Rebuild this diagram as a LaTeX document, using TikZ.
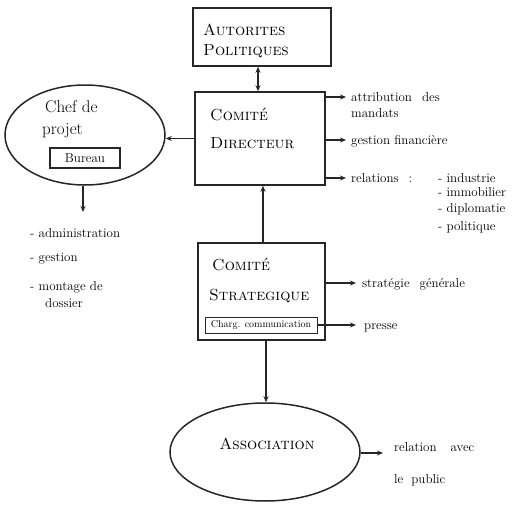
\documentclass[tikz,border=0pt]{standalone}
\usetikzlibrary{shapes.geometric,arrows.meta}
\begin{document}
\begin{tikzpicture}[x=1pt,y=-1pt,
  ink/.style={draw=black!85, line width=1.5pt},
  boxnode/.style={ink, rectangle, inner sep=0pt},
  ovalnode/.style={ink, ellipse, inner sep=0pt},
  title/.style={font=\fontsize{16}{18}\selectfont\scshape, inner sep=0pt, anchor=base west},
  lab/.style={font=\fontsize{13}{15}\selectfont, inner sep=0pt, anchor=base west},
  arr/.style={black!85, line width=1.4pt, -{Stealth[length=6pt,width=5pt]}},
  darr/.style={black!85, line width=1.4pt, {Stealth[length=6pt,width=5pt]}-{Stealth[length=6pt,width=5pt]}}]
\useasboundingbox (0,0) rectangle (515,506);

% boxes
\node[boxnode, minimum width=138pt, minimum height=58pt] (auto) at (262,37) {};
\node[title] (autot1) at (203,35) {Autorites};
\node[title] (autot2) at (203,56) {Politiques};

\node[boxnode, minimum width=130pt, minimum height=93pt] (dir) at (260,138.5) {};
\node[title] (dirt1) at (210,120) {Comité};
\node[title] (dirt2) at (210,148) {Directeur};

\node[boxnode, minimum width=127pt, minimum height=97pt] (strat) at (261.5,291.5) {};
\node[title] (stratt1) at (212,270) {Comité};
\node[title] (stratt2) at (209,300) {Strategique};
\node[boxnode, line width=1pt, minimum width=112pt, minimum height=16pt,
      font=\fontsize{10}{11}\selectfont] (charg) at (261,325) {Charg. communication};

% ellipses
\node[ovalnode, minimum width=160pt, minimum height=100pt] (chef) at (85,135) {};
\node[font=\fontsize{17}{19}\selectfont, inner sep=0pt, anchor=base west] (chef1) at (45,112) {Chef de};
\node[font=\fontsize{17}{19}\selectfont, inner sep=0pt, anchor=base west] (chef2) at (42,134) {projet};
\node[boxnode, line width=1.2pt, minimum width=70pt, minimum height=20pt,
      font=\fontsize{13}{14}\selectfont] (bureau) at (85,158) {Bureau};

\node[ovalnode, minimum width=190pt, minimum height=98pt] (assoc) at (265,452) {};
\node[font=\fontsize{16}{18}\selectfont\scshape, inner sep=0pt] (assoct) at (267,444) {Association};

% main connectors
\draw[darr] (auto.south -| 258,0) -- (dir.north -| 258,0);
\draw[arr] (dir.west) -- (chef.east |- dir.west);
\draw[arr] (strat.north -| 263,0) -- (dir.south -| 263,0);
\draw[arr] (strat.south -| 266,0) -- (assoc.north -| 266,0);
\coordinate (chefend) at (83,212);
\draw[arr] (chef.south -| chefend) -- (chefend);

% left list
\node[lab] (la1) at (30,237) {- administration};
\node[lab] (la2) at (30,261) {- gestion};
\node[lab] (la3) at (30,290) {- montage de};
\node[lab] (la4) at (45,307) {dossier};

% right of directeur
\coordinate (p1) at (346,97);
\coordinate (p2) at (346,140);
\coordinate (p3) at (346,178);
\draw[arr] (dir.east |- p1) -- (p1);
\draw[arr] (dir.east |- p2) -- (p2);
\draw[arr] (dir.east |- p3) -- (p3);
\node[lab] (r1) at (351,101) {attribution\hspace{10pt}des};
\node[lab] (r1b) at (351,117) {mandats};
\node[lab] (r2) at (351,144) {gestion financière};
\node[lab] (r3) at (351,182) {relations\hspace{10pt}:};
\node[lab] (r4) at (438,182) {- industrie};
\node[lab] (r5) at (438,196) {- immobilier};
\node[lab] (r6) at (438,212) {- diplomatie};
\node[lab] (r7) at (438,230) {- politique};

% right of strategique
\coordinate (q1) at (356,283);
\coordinate (q2) at (356,325);
\draw[arr] (strat.east |- q1) -- (q1);
\draw[arr] (charg.east) -- (q2);
\node[lab] (s1) at (362,287) {stratégie\hspace{10pt}générale};
\node[lab] (s2) at (364,329) {presse};

% right of association
\coordinate (u1) at (383,453);
\draw[arr] (assoc.east |- u1) -- (u1);
\node[lab] (t1) at (394,451) {relation\hspace{14pt}avec};
\node[lab] (t2) at (394,483) {le\hspace{8pt}public};
\end{tikzpicture}
\end{document}
